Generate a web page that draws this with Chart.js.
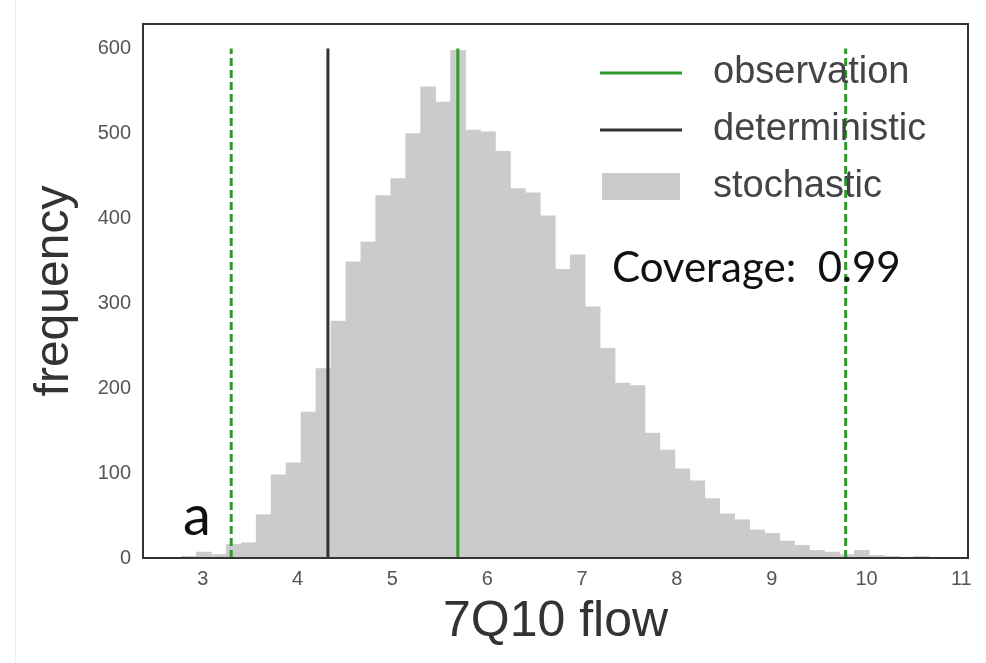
<!DOCTYPE html>
<html>
<head>
<meta charset="utf-8">
<script src="https://cdn.jsdelivr.net/npm/chart.js@4.4.0/dist/chart.umd.min.js"></script>
<style>
  html, body { margin: 0; padding: 0; background: #fff; }
  #wrap { position: relative; width: 986px; height: 663px; }
  #edge { position: absolute; left: 15px; top: 0; width: 1px; height: 663px; background: #eeeeee; }
</style>
</head>
<body>
<div id="wrap">
  <canvas id="histogram" width="986" height="663"></canvas>
  <div id="edge"></div>
</div>
<script>
// histogram: 50 bins, counts
var binStart = 2.775;
var binWidth = 0.1577;
var counts = [2, 7, 4, 16, 18, 51, 98, 112, 172, 223,
              279, 349, 372, 427, 447, 500, 555, 537, 598, 504,
              502, 479, 435, 430, 403, 340, 357, 296, 247, 206,
              203, 147, 127, 105, 91, 70, 52, 45, 33, 29,
              20, 15, 9, 7, 4, 9, 3, 2, 1, 2];

// vertical markers
var observation = 5.69;
var observationRange = [3.30, 9.78];
var deterministic = 4.32;
var markerTop = 600;

var xTicks = [3, 4, 5, 6, 7, 8, 9, 10, 11];
var yTicks = [0, 100, 200, 300, 400, 500, 600];
var legendLabels = ['observation', 'deterministic', 'stochastic'];
var coverageText = 'Coverage:  0.99';
var panelLetter = 'a';

var green = '#2f9b2f';
var dark = '#333333';
var grey = '#cbcbcb';

Chart.defaults.font.family = '"Liberation Sans", Arial, sans-serif';

function verticalLine(x) {
    return [{x: x, y: 0}, {x: x, y: markerTop}];
}

// frame, legend and notes drawn on top of the plot
var notes = {
    id: 'notes',
    afterDraw: function (chart) {
        var ctx = chart.ctx;
        var area = chart.chartArea;
        ctx.save();

        ctx.strokeStyle = dark;
        ctx.lineWidth = 2;
        ctx.strokeRect(area.left, area.top, area.right - area.left, area.bottom - area.top);

        var rows = [73, 130, 187];
        var colors = [green, dark, grey];
        ctx.font = '38px "Liberation Sans", Arial, sans-serif';
        ctx.textBaseline = 'middle';
        for (var i = 0; i < legendLabels.length; i++) {
            if (i < 2) {
                ctx.strokeStyle = colors[i];
                ctx.lineWidth = 3;
                ctx.beginPath();
                ctx.moveTo(600, rows[i]);
                ctx.lineTo(682, rows[i]);
                ctx.stroke();
            } else {
                ctx.fillStyle = colors[i];
                ctx.fillRect(602, rows[i] - 14, 78, 27);
            }
            ctx.fillStyle = '#444';
            ctx.fillText(legendLabels[i], 713, rows[i]);
        }

        ctx.fillStyle = '#111';
        ctx.textBaseline = 'alphabetic';
        ctx.font = '42px Lato, "Noto Sans", sans-serif';
        ctx.fillText(coverageText, 612, 282);
        ctx.font = '56px Lato, "Noto Sans", sans-serif';
        ctx.fillText(panelLetter, 183, 535);

        ctx.restore();
    }
};

var ctx = document.getElementById('histogram');
var chart = new Chart(ctx, {
    type: 'bar',
    data: {
        datasets: [{
            label: 'stochastic',
            data: counts.map(function (c, i) {
                return {x: binStart + binWidth * (i + 0.5), y: c};
            }),
            backgroundColor: grey,
            borderWidth: 0,
            barPercentage: 1,
            categoryPercentage: 1,
            order: 2
        }, {
            type: 'line',
            label: 'observation',
            data: verticalLine(observation),
            borderColor: green,
            borderWidth: 3,
            pointRadius: 0,
            order: 1
        }, {
            type: 'line',
            label: 'deterministic',
            data: verticalLine(deterministic),
            borderColor: dark,
            borderWidth: 3,
            pointRadius: 0,
            order: 1
        }, {
            type: 'line',
            label: 'low',
            data: verticalLine(observationRange[0]),
            borderColor: green,
            borderWidth: 3,
            borderDash: [8, 4],
            pointRadius: 0,
            order: 1
        }, {
            type: 'line',
            label: 'high',
            data: verticalLine(observationRange[1]),
            borderColor: green,
            borderWidth: 3,
            borderDash: [8, 4],
            pointRadius: 0,
            order: 1
        }]
    },
    options: {
        responsive: false,
        animation: false,
        layout: { padding: { left: 0, right: 18, top: 22, bottom: 0 } },
        plugins: {
            legend: { display: false },
            tooltip: { enabled: false }
        },
        scales: {
            x: {
                type: 'linear',
                min: 2.37,
                max: 11.07,
                offset: false,
                grid: { display: false, drawTicks: false, offset: false },
                border: { display: false },
                ticks: {
                    color: '#555',
                    font: { size: 20 },
                    padding: 9,
                    maxRotation: 0,
                    autoSkip: false,
                    callback: function (v) { return String(v); }
                },
                afterBuildTicks: function (scale) {
                    scale.ticks = xTicks.map(function (v) { return {value: v}; });
                },
                afterFit: function (scale) { scale.height = 105; },
                title: {
                    display: true,
                    text: '7Q10 flow',
                    color: '#333',
                    font: { size: 50 },
                    padding: { top: 0, bottom: 11 }
                }
            },
            y: {
                min: 0,
                max: 629,
                grid: { display: false, drawTicks: false },
                border: { display: false },
                ticks: {
                    color: '#555',
                    font: { size: 20 },
                    padding: 12
                },
                afterBuildTicks: function (scale) {
                    scale.ticks = yTicks.map(function (v) { return {value: v}; });
                },
                afterFit: function (scale) { scale.width = 143; },
                title: {
                    display: true,
                    text: 'frequency',
                    color: '#333',
                    font: { size: 48 },
                    padding: { top: 26, bottom: 0 }
                }
            }
        }
    },
    plugins: [notes]
});
</script>
</body>
</html>
